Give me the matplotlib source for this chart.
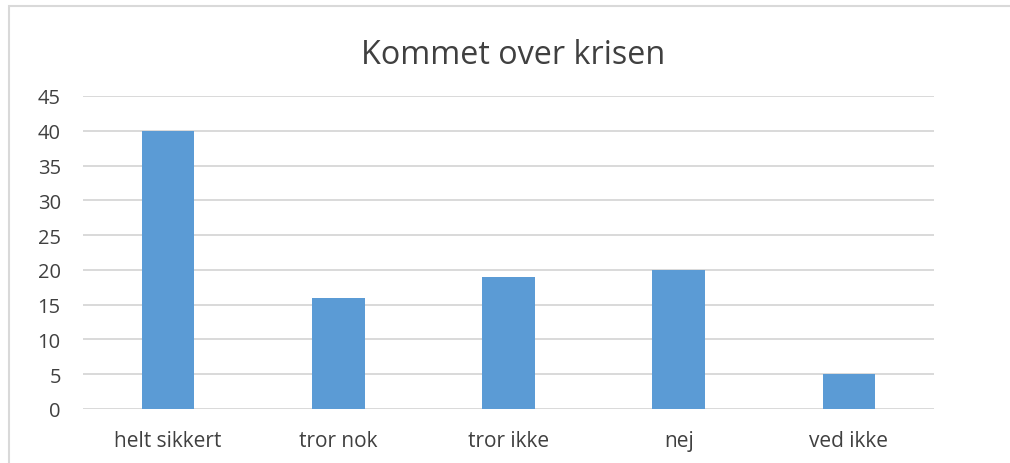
import matplotlib
matplotlib.use("Agg")
import matplotlib.pyplot as plt
from matplotlib.patches import Rectangle

categories = ["helt sikkert", "tror nok", "tror ikke", "nej", "ved ikke"]
values = [40, 16, 19, 20, 5]
yticks = [0, 5, 10, 15, 20, 25, 30, 35, 40, 45]
title = "Kommet over krisen"

plt.rcParams['font.family'] = ['Open Sans', 'DejaVu Sans']

W, H = 1010, 464
fig = plt.figure(figsize=(W / 100, H / 100), dpi=100)
ax = fig.add_axes([83 / W, 1 - 410 / H, (934 - 83) / W, (410 - 97) / H])

x = list(range(len(categories)))
ax.bar(x, values, width=0.31, color="#5B9BD5", zorder=3)
ax.set_xlim(-0.5, len(categories) - 0.5)
ax.set_ylim(0, 45)
ax.set_yticks(yticks)
ax.set_xticks(x)
ax.set_xticklabels(categories)
ax.grid(axis="y", color="#D9D9D9", linewidth=1.4, zorder=0)
ax.tick_params(axis="both", length=0, labelcolor="#404040")
ax.tick_params(axis="y", pad=16, labelsize=14.5)
ax.tick_params(axis="x", pad=15, labelsize=15)
for s in ax.spines.values():
    s.set_visible(False)

fig.text(513 / W, 1 - 64 / H, title, ha="center", va="baseline",
         fontsize=23.3, color="#404040")

fig.patches.append(Rectangle((9 / W, -0.1), 2, 1 - 7 / H + 0.1,
                             transform=fig.transFigure, fill=False,
                             edgecolor="#D9D9D9", linewidth=1.5))

fig.savefig("out.png", dpi=100)
